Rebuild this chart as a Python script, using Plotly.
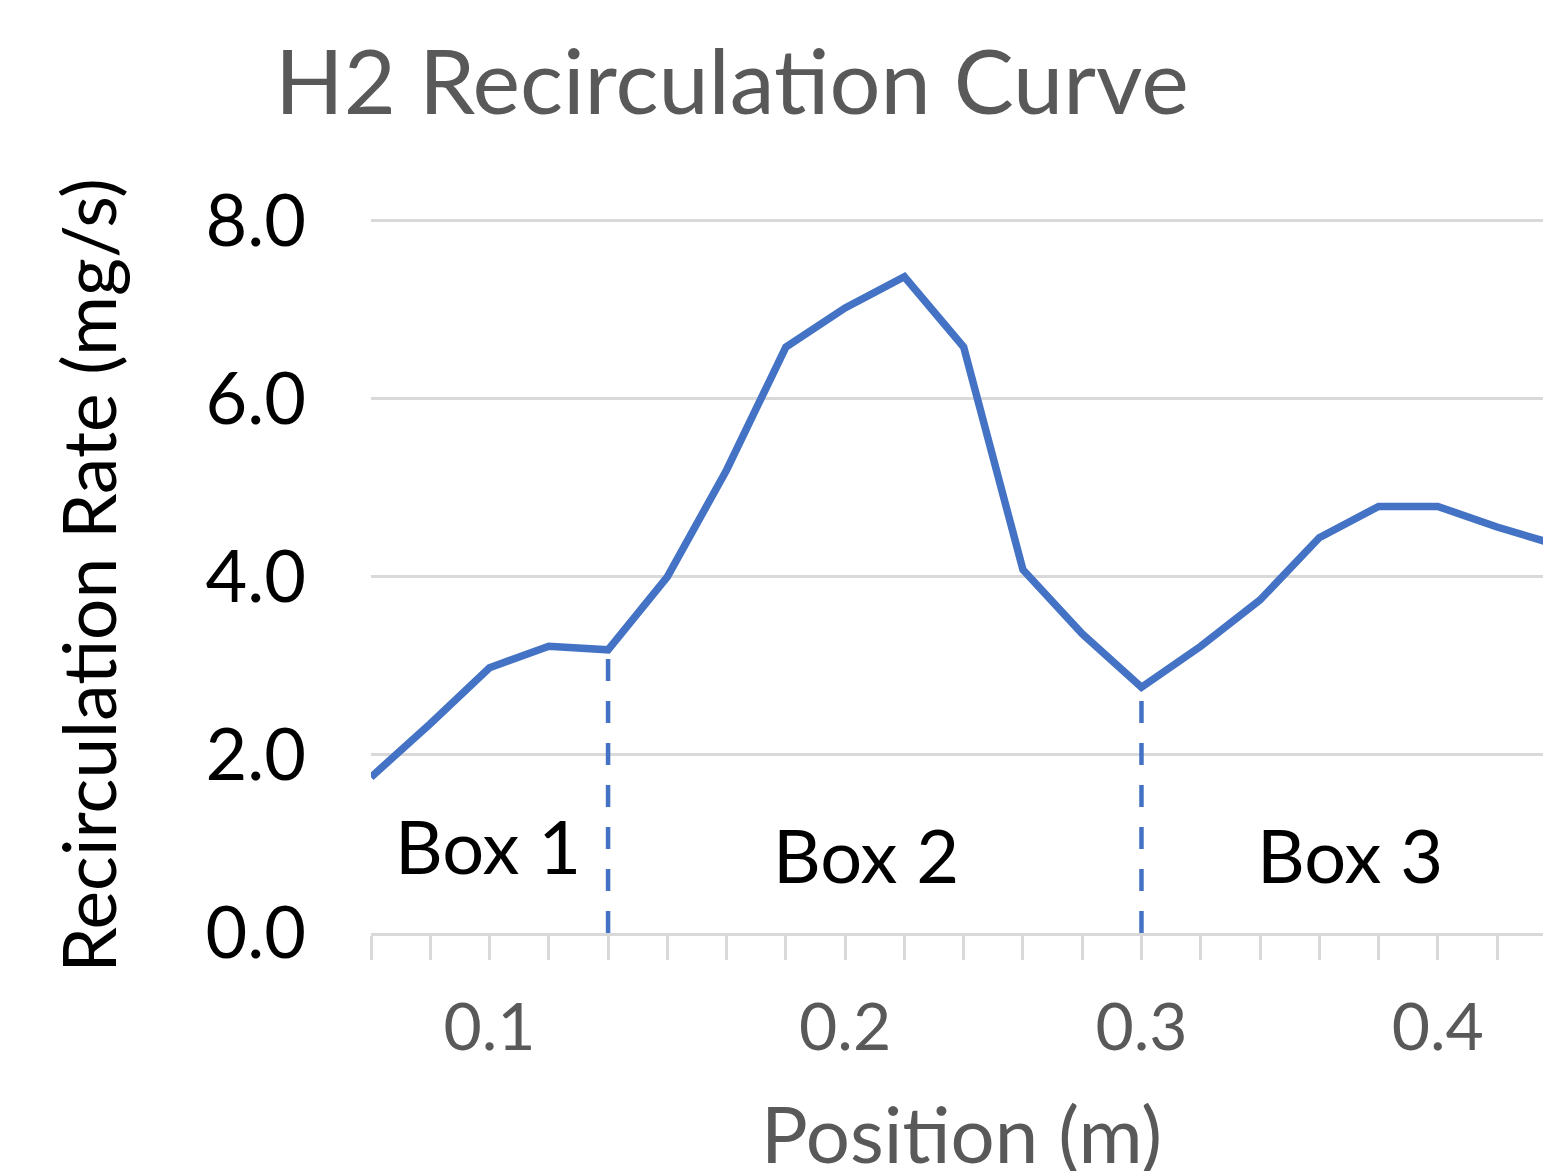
import plotly.graph_objects as go

# ---- data ----
point_index = list(range(21))
recirc_rate = [1.75, 2.35, 2.98, 3.22, 3.18, 4.00, 5.20, 6.58, 7.02, 7.37,
               6.58, 4.08, 3.36, 2.76, 3.22, 3.74, 4.44, 4.79, 4.79, 4.56, 4.36]
label_index = [2, 8, 13, 18]
tick_labels = ["0.1", "0.2", "0.3", "0.4"]
box_bounds = [4, 13]
box_names = ["Box 1", "Box 2", "Box 3"]
box_label_x = [1.97, 8.35, 16.52]
box_label_y = [0.98, 0.88, 0.88]

FONT = "Lato"
BLUE = "#4472C4"
GRID = "#d9d9d9"
GRAY = "#595959"

label_map = dict(zip(label_index, tick_labels))
ticktext = [label_map.get(i, "") for i in point_index]

W, H = 1543, 1163  # page body adds an 8px offset
T, B = 210, 238
PLOT_H = H - T - B

fig = go.Figure()
fig.add_trace(go.Scatter(x=point_index, y=recirc_rate, mode="lines",
                         line=dict(color=BLUE, width=7.5), hoverinfo="skip",
                         showlegend=False))

for b in box_bounds:
    fig.add_shape(type="line", xref="x", yref="y", x0=b, x1=b, y0=0,
                  y1=recirc_rate[b],
                  line=dict(color=BLUE, width=4.5, dash="22px,20px"), layer="above")

for name, bx, by in zip(box_names, box_label_x, box_label_y):
    fig.add_annotation(x=bx, y=by, xref="x", yref="y", text=name, showarrow=False,
                       font=dict(family=FONT, size=74, color="#000000"),
                       xanchor="center", yanchor="middle")

# x-axis title as annotation (below tick labels)
fig.add_annotation(x=0.5, y=-200 / PLOT_H, xref="paper", yref="paper",
                   text="Position (m)", showarrow=False,
                   font=dict(family=FONT, size=78, color=GRAY),
                   xanchor="center", yanchor="middle")

fig.update_layout(
    width=W, height=H,
    margin=dict(l=363, r=0, t=T, b=B),
    paper_bgcolor="white", plot_bgcolor="white",
    title=dict(text="H2 Recirculation Curve", xref="container", yref="container",
               x=267 / W, xanchor="left", y=1 - 74 / H, yanchor="middle",
               font=dict(family=FONT, size=90, color=GRAY)),
    xaxis=dict(range=[0, 19.91], tickmode="array", tickvals=point_index,
               ticktext=ticktext, ticks="outside", ticklen=24, tickwidth=3,
               tickcolor=GRID, showline=True, linecolor=GRID, linewidth=3,
               showgrid=False, zeroline=False,
               tickfont=dict(family=FONT, size=66, color=GRAY),
               ticklabelstandoff=11, automargin=False),
    yaxis=dict(range=[0, 8.03], tickmode="array", tickvals=[0, 2, 4, 6, 8],
               ticktext=["0.0", "2.0", "4.0", "6.0", "8.0"],
               showgrid=True, gridcolor=GRID, gridwidth=3, zeroline=False,
               showline=False, ticks="", ticklabelstandoff=64,
               tickfont=dict(family=FONT, size=72, color="#000000"),
               title=dict(text="Recirculation Rate (mg/s)", standoff=64,
                          font=dict(family=FONT, size=73, color="#000000")),
               automargin=False),
)

fig.write_html("out.html")
